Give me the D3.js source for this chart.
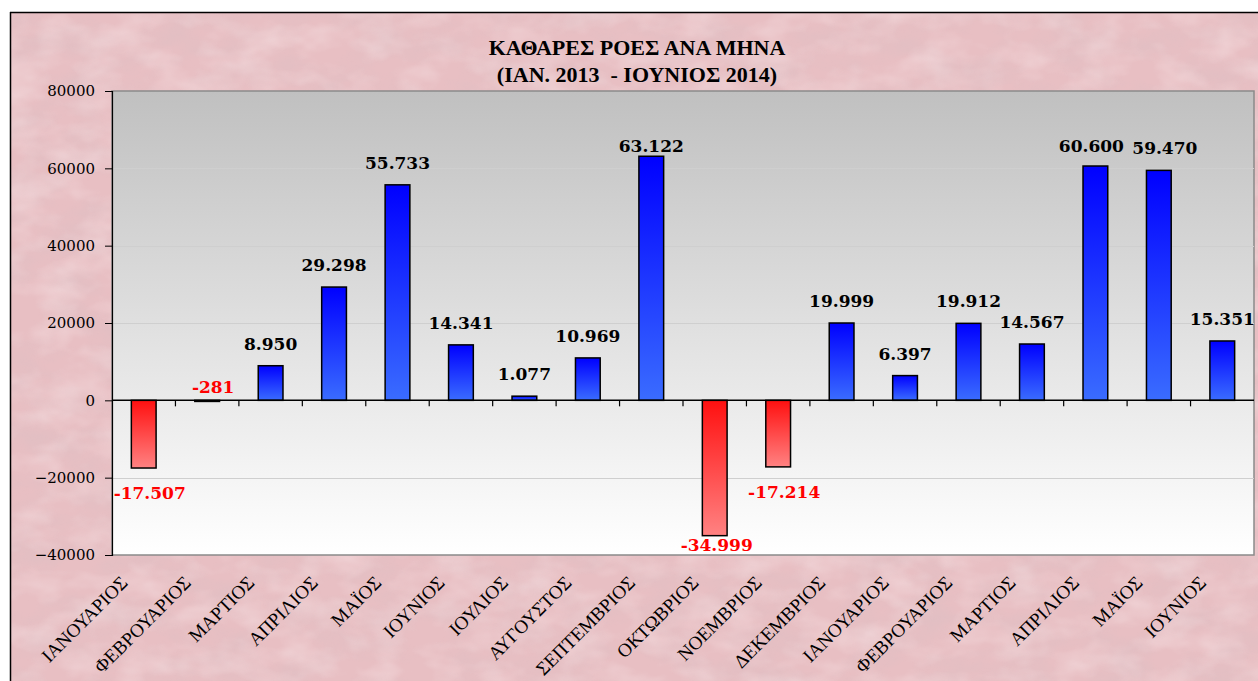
<!DOCTYPE html>
<html><head><meta charset="utf-8">
<script src="https://cdn.jsdelivr.net/npm/d3@7"></script>
<style>html,body{margin:0;padding:0;background:#fff;}svg{display:block;}</style>
</head><body>
<svg id="chart" width="1258" height="681"></svg>
<script>
const categories = ["ΙΑΝΟΥΑΡΙΟΣ","ΦΕΒΡΟΥΑΡΙΟΣ","ΜΑΡΤΙΟΣ","ΑΠΡΙΛΙΟΣ","ΜΑΪΟΣ","ΙΟΥΝΙΟΣ","ΙΟΥΛΙΟΣ","ΑΥΓΟΥΣΤΟΣ","ΣΕΠΤΕΜΒΡΙΟΣ","ΟΚΤΩΒΡΙΟΣ","ΝΟΕΜΒΡΙΟΣ","ΔΕΚΕΜΒΡΙΟΣ","ΙΑΝΟΥΑΡΙΟΣ","ΦΕΒΡΟΥΑΡΙΟΣ","ΜΑΡΤΙΟΣ","ΑΠΡΙΛΙΟΣ","ΜΑΪΟΣ","ΙΟΥΝΙΟΣ"];
const values = [-17507,-281,8950,29298,55733,14341,1077,10969,63122,-34999,-17214,19999,6397,19912,14567,60600,59470,15351];
const valueLabels = ["-17.507","-281","8.950","29.298","55.733","14.341","1.077","10.969","63.122","-34.999","-17.214","19.999","6.397","19.912","14.567","60.600","59.470","15.351"];
const yTicks = [-40000,-20000,0,20000,40000,60000,80000];
const titleLines = ["ΚΑΘΑΡΕΣ ΡΟΕΣ ΑΝΑ ΜΗΝΑ","(ΙΑΝ. 2013  - ΙΟΥΝΙΟΣ 2014)"];

const svg = d3.select("#chart");
const W = 1258, H = 681;
const plot = {left:112, right:1254, top:91, bottom:555};

const defs = svg.append("defs");
// marble texture
const f = defs.append("filter").attr("id","marble").attr("x",0).attr("y",0).attr("width","100%").attr("height","100%");
f.append("feTurbulence").attr("type","fractalNoise").attr("baseFrequency","0.02 0.035").attr("numOctaves",4).attr("seed",11).attr("result","n");
f.append("feColorMatrix").attr("in","n").attr("type","matrix")
 .attr("values","0 0 0 0 0.70  0 0 0 0 0.52  0 0 0 0 0.55  1.5 0 0 0 -0.58");
const f2 = defs.append("filter").attr("id","marble2").attr("x",0).attr("y",0).attr("width","100%").attr("height","100%");
f2.append("feTurbulence").attr("type","fractalNoise").attr("baseFrequency","0.025 0.04").attr("numOctaves",3).attr("seed",3).attr("result","n");
f2.append("feColorMatrix").attr("in","n").attr("type","matrix")
 .attr("values","0 0 0 0 0.97  0 0 0 0 0.86  0 0 0 0 0.87  0 1.5 0 0 -0.58");
const gPos = defs.append("linearGradient").attr("id","gPos").attr("x1",0).attr("y1",0).attr("x2",0).attr("y2",1);
gPos.append("stop").attr("offset","0%").attr("stop-color","#0000ff");
gPos.append("stop").attr("offset","100%").attr("stop-color","#3a6cff");
const gNeg = defs.append("linearGradient").attr("id","gNeg").attr("x1",0).attr("y1",0).attr("x2",0).attr("y2",1);
gNeg.append("stop").attr("offset","0%").attr("stop-color","#ff1010");
gNeg.append("stop").attr("offset","100%").attr("stop-color","#ff8282");
const gBg = defs.append("linearGradient").attr("id","gBg").attr("x1",0).attr("y1",0).attr("x2",0).attr("y2",1);
gBg.append("stop").attr("offset","0%").attr("stop-color","#c0c0c0");
gBg.append("stop").attr("offset","100%").attr("stop-color","#ffffff");

// outer background
svg.append("rect").attr("x",10).attr("y",12).attr("width",W-10).attr("height",H-12).attr("fill","#e8bfc3");
svg.append("rect").attr("x",10).attr("y",12).attr("width",W-10).attr("height",H-12).attr("filter","url(#marble)").attr("opacity",0.55);
svg.append("rect").attr("x",10).attr("y",12).attr("width",W-10).attr("height",H-12).attr("filter","url(#marble2)").attr("opacity",0.45);
svg.append("line").attr("x1",10).attr("x2",W).attr("y1",12.5).attr("y2",12.5).attr("stroke","#000").attr("stroke-width",1.5);
svg.append("line").attr("x1",10.5).attr("x2",10.5).attr("y1",12).attr("y2",H).attr("stroke","#000").attr("stroke-width",1.5);

const x = d3.scaleBand().domain(d3.range(categories.length)).range([plot.left, plot.right]).paddingInner(0.61).paddingOuter(0.305);
const y = d3.scaleLinear().domain([-40000,80000]).range([plot.bottom, plot.top]);

// plot area
svg.append("rect").attr("x",plot.left).attr("y",plot.top).attr("width",plot.right-plot.left).attr("height",plot.bottom-plot.top)
 .attr("fill","url(#gBg)").attr("stroke","#8a8a8a").attr("stroke-width",1.5);
// gridlines
svg.append("g").selectAll("line").data(yTicks.filter(t=>t!==0 && t!==80000 && t!==-40000)).join("line")
 .attr("x1",plot.left).attr("x2",plot.right).attr("y1",d=>Math.round(y(d))+0.5).attr("y2",d=>Math.round(y(d))+0.5)
 .attr("stroke","#cfcfcf").attr("stroke-width",1);

// y axis
const yAxis = d3.axisLeft(y).tickValues(yTicks).tickSize(7).tickPadding(10).tickFormat(d3.format("d"));
const ya = svg.append("g").attr("transform",`translate(${plot.left},0)`).call(yAxis);
ya.select(".domain").attr("stroke","#000").attr("stroke-width",1.2);
ya.selectAll(".tick line").attr("stroke","#000");
ya.selectAll("text").attr("font-family","'DejaVu Serif', serif").attr("font-size","15px").attr("fill","#000");

// bars
svg.append("g").selectAll("rect").data(values).join("rect")
 .attr("x",(d,i)=>x(i)).attr("width",x.bandwidth())
 .attr("y",d=>y(Math.max(0,d))).attr("height",d=>Math.abs(y(d)-y(0)))
 .attr("fill",d=>d>=0?"url(#gPos)":"url(#gNeg)").attr("stroke","#000").attr("stroke-width",1.5);

// zero axis with ticks at band boundaries
const step = x.step();
svg.append("line").attr("x1",plot.left).attr("x2",plot.right).attr("y1",y(0)).attr("y2",y(0)).attr("stroke","#000").attr("stroke-width",1.5);
svg.append("g").selectAll("line").data(d3.range(1,categories.length)).join("line")
 .attr("x1",i=>plot.left+i*step).attr("x2",i=>plot.left+i*step)
 .attr("y1",y(0)).attr("y2",y(0)+6).attr("stroke","#000").attr("stroke-width",1.2);

// value labels
svg.append("g").selectAll("text").data(values).join("text")
 .attr("x",(d,i)=>{
   const c = x(i)+x.bandwidth()/2;
   if (d<0) return d<-30000 ? c+2 : c+6;
   const prev = values[i-1], next = values[i+1];
   if (next!==undefined && Math.abs(next-d)<3000 && d>40000) return c-4;
   if (prev!==undefined && Math.abs(prev-d)<3000 && d>40000) return c+6;
   return c;
 })
 .attr("y",d=>d>=0 ? Math.max(y(d)-16, 152) : (d>-1000 ? y(0)-7 : Math.min(y(d)+31, plot.bottom-4)))
 .attr("text-anchor","middle")
 .attr("font-family","'DejaVu Serif', serif").attr("font-weight","bold").attr("font-size","17px")
 .attr("fill",d=>d<0?"#ff0000":"#000")
 .text((d,i)=>valueLabels[i]);

// category labels
svg.append("g").selectAll("text").data(categories).join("text")
 .attr("transform",(d,i)=>`translate(${x(i)+x.bandwidth()/2-15},${584}) rotate(-45)`)
 .attr("text-anchor","end")
 .attr("font-family","'Liberation Serif', serif").attr("font-size","19px").attr("fill","#000")
 .text(d=>d);

// title
svg.append("g").selectAll("text").data(titleLines).join("text")
 .attr("x",637).attr("y",(d,i)=>55+i*27)
 .attr("text-anchor","middle")
 .attr("font-family","'Liberation Serif', serif").attr("font-weight","bold").attr("font-size","22px").attr("fill","#000")
 .style("white-space","pre")
 .text(d=>d);
</script>
</body></html>
